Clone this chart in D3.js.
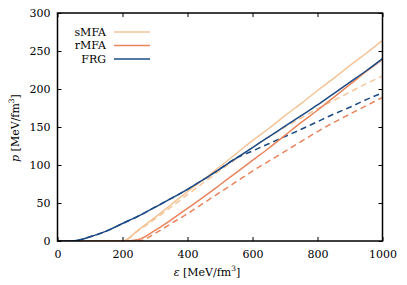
<!DOCTYPE html>
<html><head><meta charset="utf-8">
<script src="https://cdn.jsdelivr.net/npm/d3@7"></script>
<style>body{margin:0;background:#fff} svg text{font-family:'DejaVu Serif',serif !important;}</style>
</head><body><svg id="c" width="407" height="285"></svg>
<script>
const eps = [0,50,100,150,200,250,300,350,400,450,500,550,600,650,700,750,800,850,900,950,1000];
const frgSolid  = [0,0.3,5.5,13,23,33,44.5,56,68,81,95,109,123,137,151,165,179,194,209,224,240];
const frgDashed = [0,0.3,5.5,13,23,33,44.5,56,68,81,95,109,118.5,128,137.5,147,157,167,176,186,195];
const smfaSolid = [0,0,0,0,0,15,31,48,65,81,98,115,132,148,165,181,198,214,231,247,264];
const smfaDashed= [0,0,0,0,0,14,29,45,61,77,93,108,123,137,150,162,174,185,196,207,217];
const rmfaSolid = [0,0,0,0,0,2,14,28,43,58,74,90,106,122,139,156,172,189,206,223,239];
const rmfaDashed= [0,0,0,0,0,0,10,23,36,50,64,78,92,105,118,131,144,156,167,178,189];
const xTicks = [0,200,400,600,800,1000];
const yTicks = [0,50,100,150,200,250,300];
const legendLabels = ["sMFA","rMFA","FRG"];
const colors = {sMFA:"#f4c497", rMFA:"#e9845c", FRG:"#1c4a84"};
const FONT = "DejaVu Serif";

const svg = d3.select("#c");
const L=57.5,R=382.5,T=13,B=241;
const x = d3.scaleLinear().domain([0,1000]).range([L,R]);
const y = d3.scaleLinear().domain([0,300]).range([B,T]);

const series = [
  {v:smfaDashed,c:colors.sMFA,d:true},
  {v:rmfaDashed,c:colors.rMFA,d:true},
  {v:frgDashed,c:colors.FRG,d:true},
  {v:smfaSolid,c:colors.sMFA,d:false},
  {v:rmfaSolid,c:colors.rMFA,d:false},
  {v:frgSolid,c:colors.FRG,d:false},
];
const line = d3.line().x((d,i)=>x(eps[i])).y(d=>y(d)).curve(d3.curveMonotoneX);
const g = svg.append("g");
g.append("clipPath").attr("id","cp").append("rect").attr("x",L).attr("y",T).attr("width",R-L).attr("height",B-T);
series.forEach(s=>{
  g.append("path").attr("d",line(s.v)).attr("fill","none").attr("stroke",s.c)
   .attr("stroke-width",1.5).attr("stroke-dasharray",s.d?"6,4":null).attr("clip-path","url(#cp)");
});

const ax = (gen,tr)=>{const a=svg.append("g").attr("transform",tr).call(gen);
  a.attr("font-family",FONT).attr("font-size",11);
  a.select(".domain").remove(); a.selectAll("line").attr("stroke","#000").attr("stroke-width",1);
  a.selectAll("text").attr("fill","#000"); return a;};
const fmt = d3.format("d");
ax(d3.axisBottom(x).tickValues(xTicks).tickSize(-4).tickPadding(9).tickFormat(fmt),`translate(0,${B})`);
ax(d3.axisTop(x).tickValues(xTicks).tickSize(-4).tickFormat(""),`translate(0,${T})`);
ax(d3.axisLeft(y).tickValues(yTicks).tickSize(-4).tickPadding(7).tickFormat(fmt),`translate(${L},0)`);
ax(d3.axisRight(y).tickValues(yTicks).tickSize(-4).tickFormat(""),`translate(${R},0)`);
svg.append("rect").attr("x",L).attr("y",T).attr("width",R-L).attr("height",B-T)
  .attr("fill","none").attr("stroke","#000").attr("stroke-width",1.5);

const ly = d3.scalePoint().domain(legendLabels).range([32,59]);
legendLabels.forEach(k=>{
  svg.append("text").attr("x",106).attr("y",ly(k)).attr("dy","0.35em").attr("text-anchor","end")
    .attr("font-family",FONT).attr("font-size",11).text(k);
  svg.append("line").attr("x1",114).attr("x2",150).attr("y1",ly(k)).attr("y2",ly(k))
    .attr("stroke",colors[k]).attr("stroke-width",1.5);
});

const xl = svg.append("text").attr("x",207).attr("y",276).attr("text-anchor","middle")
  .attr("font-family",FONT).attr("font-size",11);
xl.append("tspan").attr("font-style","italic").text("ε");
xl.append("tspan").text(" [MeV/fm");
xl.append("tspan").attr("font-size",7.5).attr("dy",-5).text("3");
xl.append("tspan").attr("dy",5).text("]");
const yl = svg.append("text").attr("transform","translate(19,128) rotate(-90)").attr("text-anchor","middle")
  .attr("font-family",FONT).attr("font-size",11);
yl.append("tspan").attr("font-style","italic").text("p");
yl.append("tspan").text(" [MeV/fm");
yl.append("tspan").attr("font-size",7.5).attr("dy",-5).text("3");
yl.append("tspan").attr("dy",5).text("]");
</script></body></html>
